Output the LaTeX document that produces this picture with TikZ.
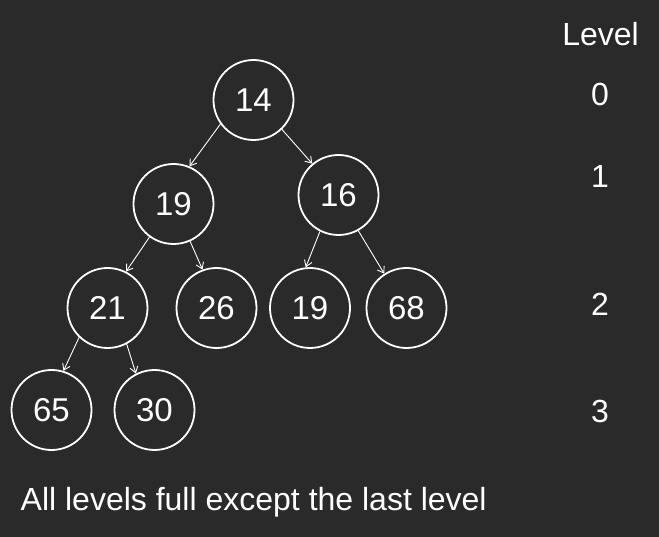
\documentclass[tikz,border=0pt]{standalone}
\usepackage{fontspec}
\setmainfont{Liberation Sans}
\usetikzlibrary{arrows.meta}
\definecolor{bg}{HTML}{2A2A2A}
\begin{document}
\begin{tikzpicture}[x=1pt,y=-1pt,
  heapnode/.style={circle,draw=white,line width=1.8pt,minimum size=80pt,inner sep=0pt,text=white,font=\fontsize{33}{38}\selectfont},
  lvl/.style={anchor=base,text=white,font=\fontsize{32}{37}\selectfont,inner sep=0pt},
  edge/.style={draw=white,line width=0.9pt,-{Straight Barb[length=6pt,width=8pt,line width=0.9pt]}}]
\fill[bg] (0,0) rectangle (659,537);
\useasboundingbox (0,0) rectangle (659,537);
\node[heapnode] (a) at (253.5,100) {14};
\node[heapnode] (b) at (173.5,204) {19};
\node[heapnode] (c) at (338.5,195) {16};
\node[heapnode] (d) at (107.5,308) {21};
\node[heapnode] (e) at (216.5,308) {26};
\node[heapnode] (f) at (310,308) {19};
\node[heapnode] (g) at (406.5,308) {68};
\node[heapnode] (h) at (51.5,410) {65};
\node[heapnode] (i) at (154.5,410) {30};
\draw[edge] (a.216) -- (b.67);
\draw[edge] (a.314) -- (c.130);
\draw[edge] (b.234) -- (d.63);
\draw[edge] (b.294) -- (e.110);
\draw[edge] (c.243) -- (f.96);
\draw[edge] (c.299) -- (g.123);
\draw[edge] (d.226) -- (h.73);
\draw[edge] (d.298) -- (i.117);
\node[lvl] (l) at (600.5,46) {Level};
\node[lvl] (l0) at (600,106) {0};
\node[lvl] (l1) at (600,187.5) {1};
\node[lvl] (l2) at (600,316) {2};
\node[lvl] (l3) at (600,422.5) {3};
\node[lvl,anchor=base west] (cap) at (20.5,510.5) {All levels full except the last level};
\end{tikzpicture}
\end{document}
